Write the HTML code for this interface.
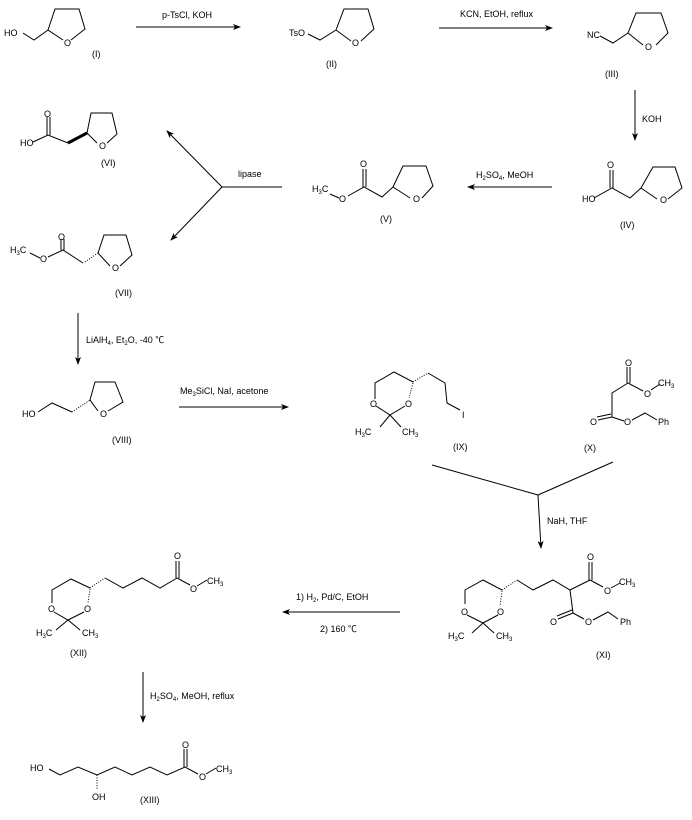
<!DOCTYPE html>
<html><head><meta charset="utf-8"><style>
body{margin:0;background:#fff}
svg{display:block}
text{font-family:"Liberation Sans","Noto Sans CJK SC",sans-serif;font-size:9px;fill:#000}
.s{font-size:6px}
</style></head><body>
<svg width="692" height="820" viewBox="0 0 692 820" xmlns="http://www.w3.org/2000/svg">
<defs><marker id="a" markerWidth="8" markerHeight="6" refX="7" refY="3" orient="auto" markerUnits="userSpaceOnUse"><path d="M0,0L8,3L0,6L2,3z" fill="#000"/></marker></defs>
<g fill="none" stroke="#000" stroke-width="1">
<polyline points="23,33 34,40 48,30"/><polyline points="63,40 48,30 55,9 79,9 85,29 71,40"/>
<line x1="136" y1="27" x2="240" y2="27" marker-end="url(#a)"/>
<polyline points="308,34 320,40 336,30"/><polyline points="351,41 336,30 344,9 368,9 374,29 361,41"/>
<line x1="439" y1="28" x2="552" y2="28" marker-end="url(#a)"/>
<polyline points="600,36 613,43 628,33"/><polyline points="643,45 628,33 636,13 661,13 668,33 656,45"/>
<line x1="635" y1="90" x2="635" y2="140" marker-end="url(#a)"/>
<line x1="610" y1="170" x2="610" y2="188"/><line x1="613" y1="170" x2="613" y2="188"/>
<polyline points="594,198 612,188 630,198 641,188"/><polyline points="657,199 641,188 653,167 675,167 682,188 668,199"/>
<line x1="552" y1="187" x2="468" y2="187" marker-end="url(#a)"/>
<polyline points="330,194 339,198"/><polyline points="348,196 364,187 382,197 393,187"/>
<line x1="363" y1="169" x2="363" y2="187"/><line x1="366" y1="169" x2="366" y2="187"/>
<polyline points="410,198 393,187 403,166 426,166 433,186 422,198"/>
<line x1="282" y1="187" x2="222" y2="187"/>
<line x1="222" y1="187" x2="167" y2="131" marker-end="url(#a)"/>
<line x1="222" y1="187" x2="171" y2="240" marker-end="url(#a)"/>
<line x1="47" y1="117" x2="47" y2="135"/><line x1="50" y1="117" x2="50" y2="135"/>
<polyline points="33,142 48,135 68,143"/><polyline points="97,143 87,133 91,113 112,113 117,134 107,143"/>
<line x1="61" y1="239" x2="61" y2="250"/><line x1="64" y1="239" x2="64" y2="250"/>
<polyline points="30,253 40,258"/><polyline points="48,257 63,250 83,263"/>
<polyline points="110,266 98,253 104,235 126,235 132,255 120,266"/>
<line x1="78" y1="313" x2="78" y2="364" marker-end="url(#a)"/>
<polyline points="38,412 52,403 72,412"/><polyline points="98,411 90,400 95,382 115,382 123,402 108,411"/>
<line x1="179" y1="407" x2="288" y2="407" marker-end="url(#a)"/>
<!-- IX -->
<polyline points="375,399 375,383 394,372 413,382"/><polyline points="376,406 390,415 405,406"/>
<polyline points="390,415 380,427"/><polyline points="390,415 401,427"/>
<polyline points="428,373 445,383 447,403 460,410"/>
<!-- X -->
<line x1="627" y1="367" x2="627" y2="383"/><line x1="630" y1="367" x2="630" y2="383"/>
<polyline points="628,383 643,391"/><polyline points="651,390 660,384"/>
<polyline points="628,383 612,393 612,417"/>
<line x1="612" y1="417" x2="598" y2="420"/><line x1="611" y1="414" x2="597" y2="417"/>
<polyline points="612,417 624,421"/><polyline points="632,420 645,413 657,420"/>
<line x1="432" y1="465" x2="538" y2="495"/><line x1="613" y1="462" x2="538" y2="495"/>
<line x1="538" y1="495" x2="541" y2="548" marker-end="url(#a)"/>
<!-- XI -->
<polyline points="465,604 465,590 483,580 502,590"/><polyline points="467,615 483,623 498,615"/>
<polyline points="483,623 472,633"/><polyline points="483,623 494,633"/>
<polyline points="517,580 533,590 553,580 570,590 590,580"/>
<line x1="589" y1="562" x2="589" y2="580"/><line x1="592" y1="562" x2="592" y2="580"/>
<polyline points="590,580 603,587"/><polyline points="611,588 620,583"/>
<polyline points="570,590 573,613"/><line x1="573" y1="613" x2="558" y2="619"/><line x1="572" y1="610" x2="557" y2="616"/>
<polyline points="573,613 584,619"/><polyline points="593,620 608,612 618,619"/>
<line x1="400" y1="612" x2="283" y2="612" marker-end="url(#a)"/>
<!-- XII -->
<polyline points="52,603 52,590 71,579 90,588"/><polyline points="54,612 68,620 84,612"/>
<polyline points="68,620 56,630"/><polyline points="68,620 80,630"/>
<polyline points="105,578 123,588 142,578 160,588 177,578"/>
<line x1="176" y1="561" x2="176" y2="578"/><line x1="179" y1="561" x2="179" y2="578"/>
<polyline points="177,578 190,585"/><polyline points="197,586 207,580"/>
<line x1="143" y1="672" x2="143" y2="722" marker-end="url(#a)"/>
<polyline points="49,769 60,775 78,767 97,775 115,767 132,775 150,767 167,775 185,767 198,774"/>
<line x1="184" y1="749" x2="184" y2="767"/><line x1="187" y1="749" x2="187" y2="767"/>
<polyline points="206,774 216,768"/>
</g>
<g stroke="#000" stroke-width="1">
<path d="M68,143 L87,133" stroke-width="3"/>
<path d="M85,262L98,253" stroke-dasharray="1,1.5"/>
<path d="M72,412L90,400" stroke-dasharray="1,1.5"/>
<path d="M413,382L428,373" stroke-dasharray="1,1.5"/>
<path d="M413,383L409,398" stroke-dasharray="1,1.5"/>
<path d="M502,590L517,580" stroke-dasharray="1,1.5"/>
<path d="M502,591L500,606" stroke-dasharray="1,1.5"/>
<path d="M90,588L105,578" stroke-dasharray="1,1.5"/>
<path d="M90,589L88,603" stroke-dasharray="1,1.5"/>
<path d="M97,775L97,790" stroke-dasharray="1,1.5"/>
</g>
<text x="4" y="36">HO</text><text x="64" y="46">O</text><text x="92" y="57">(I)</text>
<text x="162" y="18">p-TsCl, KOH</text>
<text x="289" y="36">TsO</text><text x="352" y="46">O</text><text x="326" y="67">(II)</text>
<text x="460" y="17">KCN, EtOH, reflux</text>
<text x="587" y="38">NC</text><text x="645" y="50">O</text><text x="605" y="77">(III)</text>
<text x="642" y="122">KOH</text>
<text x="607" y="168">O</text><text x="582" y="202">HO</text><text x="660" y="203">O</text><text x="620" y="228">(IV)</text>
<text x="476" y="178">H<tspan class="s" dy="2">2</tspan><tspan dy="-2">SO</tspan><tspan class="s" dy="2">4</tspan><tspan dy="-2">, MeOH</tspan></text>
<text x="312" y="192">H<tspan class="s" dy="2">3</tspan><tspan dy="-2">C</tspan></text><text x="339" y="202">O</text><text x="360" y="167">O</text><text x="413" y="202">O</text><text x="380" y="222">(V)</text>
<text x="238" y="177">lipase</text>
<text x="44" y="117">O</text><text x="20" y="146">HO</text><text x="99" y="149">O</text><text x="101" y="166">(VI)</text>
<text x="58" y="240">O</text><text x="10" y="253">H<tspan class="s" dy="2">3</tspan><tspan dy="-2">C</tspan></text><text x="40" y="262">O</text><text x="112" y="271">O</text><text x="115" y="296">(VII)</text>
<text x="86" y="343">LiAlH<tspan class="s" dy="2">4</tspan><tspan dy="-2">, Et</tspan><tspan class="s" dy="2">2</tspan><tspan dy="-2">O, -40 ℃</tspan></text>
<text x="22" y="417">HO</text><text x="100" y="417">O</text><text x="112" y="443">(VIII)</text>
<text x="180" y="394">Me<tspan class="s" dy="2">3</tspan><tspan dy="-2">SiCl, NaI, acetone</tspan></text>
<text x="370" y="407">O</text><text x="405" y="407">O</text>
<text x="355" y="435">H<tspan class="s" dy="2">3</tspan><tspan dy="-2">C</tspan></text><text x="402" y="435">CH<tspan class="s" dy="2">3</tspan></text>
<text x="462" y="418">I</text><text x="453" y="450">(IX)</text>
<text x="625" y="366">O</text><text x="644" y="397">O</text><text x="658" y="386">CH<tspan class="s" dy="2">3</tspan></text>
<text x="590" y="425">O</text><text x="624" y="425">O</text><text x="658" y="425">Ph</text><text x="584" y="451">(X)</text>
<text x="547" y="524">NaH, THF</text>
<text x="587" y="560">O</text><text x="604" y="594">O</text><text x="619" y="585">CH<tspan class="s" dy="2">3</tspan></text>
<text x="550" y="625">O</text><text x="585" y="625">O</text><text x="620" y="625">Ph</text>
<text x="461" y="615">O</text><text x="497" y="615">O</text>
<text x="448" y="639">H<tspan class="s" dy="2">3</tspan><tspan dy="-2">C</tspan></text><text x="496" y="639">CH<tspan class="s" dy="2">3</tspan></text>
<text x="596" y="658">(XI)</text>
<text x="296" y="600">1) H<tspan class="s" dy="2">2</tspan><tspan dy="-2">, Pd/C, EtOH</tspan></text>
<text x="320" y="632">2) 160 ℃</text>
<text x="174" y="559">O</text><text x="190" y="592">O</text><text x="207" y="584">CH<tspan class="s" dy="2">3</tspan></text>
<text x="48" y="612">O</text><text x="84" y="612">O</text>
<text x="36" y="636">H<tspan class="s" dy="2">3</tspan><tspan dy="-2">C</tspan></text><text x="82" y="636">CH<tspan class="s" dy="2">3</tspan></text>
<text x="70" y="656">(XII)</text>
<text x="150" y="699">H<tspan class="s" dy="2">2</tspan><tspan dy="-2">SO</tspan><tspan class="s" dy="2">4</tspan><tspan dy="-2">, MeOH, reflux</tspan></text>
<text x="30" y="771">HO</text><text x="92" y="800">OH</text><text x="182" y="748">O</text><text x="199" y="780">O</text>
<text x="216" y="772">CH<tspan class="s" dy="2">3</tspan></text><text x="140" y="803">(XIII)</text>
</svg>
</body></html>
